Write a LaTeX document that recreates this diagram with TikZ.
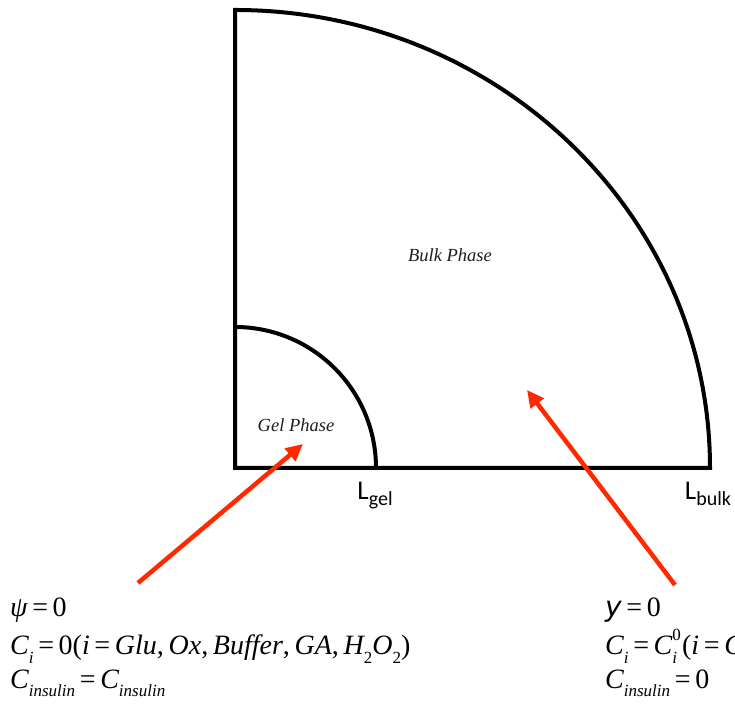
\documentclass[tikz,border=0pt]{standalone}
\usepackage{fontspec}
\setmainfont{Liberation Serif}
\newfontfamily\carlito{Carlito}
\newfontfamily\dejavu{DejaVu Sans}
\usetikzlibrary{arrows.meta}
\definecolor{arrred}{RGB}{255,40,0}
\definecolor{phasegray}{RGB}{30,30,30}
\newcommand\sbs[1]{\raisebox{-0.32em}{\fontsize{17}{17}\selectfont\itshape #1}}
\newcommand\sps[1]{\raisebox{0.5em}{\fontsize{17}{17}\selectfont #1}}
\begin{document}
\begin{tikzpicture}[x=1pt,y=1pt,
  wall/.style={line width=4pt,line join=miter},
  phase/.style={font=\fontsize{18.5}{20}\selectfont\itshape,text=phasegray,inner sep=0pt},
  lenlabel/.style={font=\carlito\fontsize{27}{28}\selectfont,anchor=base,inner sep=0pt},
  eq/.style={font=\fontsize{28}{30}\selectfont,anchor=base west,inner sep=0pt},
  redarrow/.style={draw=arrred,line width=4.5pt,-{Triangle[length=17pt,width=16pt]}}]
\useasboundingbox (0,0) rectangle (735,711);
\clip (0,0) rectangle (735,711);
\coordinate (O) at (235,243);
\coordinate (bulkend) at (710,243);
\coordinate (gelend) at (376,243);
\draw[wall] (O) -- (bulkend) arc[start angle=0,end angle=90,x radius=475,y radius=458] -- cycle;
\draw[wall] (gelend) arc[start angle=0,end angle=90,radius=141];
\node[lenlabel] (lgel) at (375,211) {L\raisebox{-0.2em}{\fontsize{20}{20}\selectfont gel}};
\node[lenlabel] (lbulk) at (708,211) {L\raisebox{-0.2em}{\fontsize{20}{20}\selectfont bulk}};
\node[phase] (gel) at (296,286) {Gel Phase};
\node[phase] (bulk) at (450,456) {Bulk Phase};
\node[eq] (l1) at (10,94) {{\itshape ψ}\,=\,0};
\node[eq] (l2) at (10,56) {{\itshape C}\sbs{i}\,=\,0({\itshape i}\,=\,{\itshape Glu},\,{\itshape Ox},\,{\itshape Buffer},\,{\itshape GA},\,{\itshape H}\sbs{\upshape 2}{\itshape O}\sbs{\upshape 2})};
\node[eq] (l3) at (10,23) {{\itshape C}\sbs{insulin}\,=\,{\itshape C}\sbs{insulin}};
\node[eq] (r1) at (605,94) {{\dejavu\itshape y}\,=\,0};
\node[eq] (r2) at (605,56) {{\itshape C}\sbs{i}\,=\,{\itshape C}\rlap{\sps{0}}\sbs{i}\hspace{5pt}({\itshape i}\,=\,{\itshape C}};
\node[eq] (r3) at (605,23) {{\itshape C}\sbs{insulin}\,=\,0};
\coordinate (a1s) at (138,128);
\coordinate (a1e) at (303,267);
\coordinate (a2s) at (675,126);
\coordinate (a2e) at (527,321);
\draw[redarrow] (a1s) -- (a1e);
\draw[redarrow] (a2s) -- (a2e);
\end{tikzpicture}
\end{document}
